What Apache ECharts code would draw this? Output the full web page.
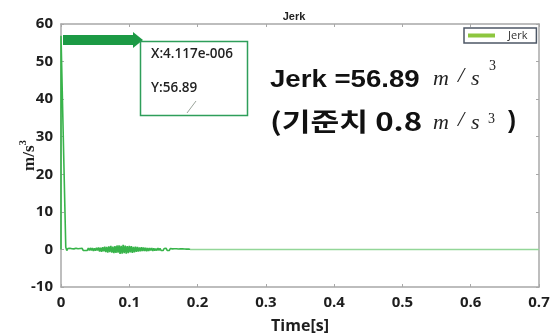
<!DOCTYPE html>
<html>
<head>
<meta charset="utf-8">
<script src="https://cdn.jsdelivr.net/npm/echarts@6/dist/echarts.min.js"></script>
<style>
  html, body { margin: 0; padding: 0; background: #fff; }
  #chart { width: 552px; height: 334px; }
</style>
</head>
<body>
<div id="chart"></div>
<script>
// Jerk signal: impact peak at start, decaying vibration, then settled (times in s, jerk in m/s^3)
const timeS = [
  0, 0.000004117, 0.007, 0.0085,
  0.0100, 0.0115, 0.0130, 0.0145, 0.0160, 0.0175, 0.0190, 0.0205, 0.0220, 0.0235,
  0.0250, 0.0265, 0.0280, 0.0295, 0.0310, 0.0325, 0.0340, 0.0355, 0.0370, 0.0385,
  0.0400, 0.0415, 0.0430, 0.0445, 0.0460, 0.0475, 0.0490, 0.0505, 0.0520, 0.0535,
  0.0550, 0.0565, 0.0580, 0.0595, 0.0610, 0.0625, 0.0640, 0.0655, 0.0670, 0.0685,
  0.0700, 0.0715, 0.0730, 0.0745, 0.0760, 0.0775, 0.0790, 0.0805, 0.0820, 0.0835,
  0.0850, 0.0865, 0.0880, 0.0895, 0.0910, 0.0925, 0.0940, 0.0955, 0.0970, 0.0985,
  0.1000, 0.1015, 0.1030, 0.1045, 0.1060, 0.1075, 0.1090, 0.1105, 0.1120, 0.1135,
  0.1150, 0.1165, 0.1180, 0.1195, 0.1210, 0.1225, 0.1240, 0.1255, 0.1270, 0.1285,
  0.1300, 0.1315, 0.1330, 0.1345, 0.1360, 0.1375, 0.1390, 0.1405, 0.1420, 0.1435,
  0.1450, 0.1465, 0.1480, 0.1495, 0.1510, 0.1525, 0.1540, 0.1555, 0.1570, 0.1585,
  0.1600, 0.1615, 0.1630, 0.1645, 0.1660, 0.1675, 0.1690, 0.1705, 0.1720, 0.1735,
  0.1750, 0.1765, 0.1780, 0.1795, 0.1810, 0.1825, 0.1840, 0.1855, 0.1870, 0.1885,
  0.1900, 0.7000
];
const jerk = [
  0, 56.89, 0.6, -0.3,
  0.25, -0.2, 0.3, -0.15, 0.2, -0.3, 0.15, -0.25, 0.3, -0.2,
  0.2, -0.3, 0.25, -0.15, 0.3, -0.25, 0.2, -0.3, 0.15, -0.25,
  0.35, -0.3, 0.4, -0.25, 0.35, -0.4, 0.3, -0.35, 0.45, -0.3,
  0.5, -0.55, 0.45, -0.65, 0.6, -0.5, 0.75, -0.7, 0.65, -0.85,
  0.8, -0.7, 0.95, -0.85, 0.75, -1.0, 0.9, -0.95, 1.05, -0.85,
  1.1, -1.2, 0.95, -1.15, 1.2, -1.0, 1.05, -1.1, 0.9, -1.0,
  0.95, -0.8, 0.85, -0.9, 0.7, -0.8, 0.75, -0.65, 0.7, -0.6,
  0.55, -0.5, 0.6, -0.45, 0.5, -0.4, 0.45, -0.5, 0.35, -0.4,
  0.4, -0.3, 0.35, -0.4, 0.3, -0.35, 0.25, -0.3, 0.35, -0.25,
  0.3, -0.25, 0.2, -0.3, 0.25, -0.2, 0.3, -0.25, 0.2, -0.3,
  0.25, -0.2, 0.15, -0.25, 0.2, -0.15, 0.2, -0.15, 0.1, -0.2,
  0.15, -0.1, 0.15, -0.12, 0.1, -0.15, 0.08, -0.1, 0.1, -0.05,
  0, 0
];

// axis ranges: [min, max, interval]
const xRange = [0, 0.7, 0.1];
const yRange = [-10, 60, 10];
// time where the vibration has died out
const settledFrom = 0.19;

const seriesName = 'Jerk';
const peakLabel = ['X:4.117e-006', 'Y:56.89'];
const headline = 'Jerk =56.89';
const limitLine = '(기준치 0.8';

const points = timeS.map((t, i) => [t, jerk[i]]);

// trace colour: strong green while vibrating, lighter once settled
const tFirst = timeS[0], tLast = timeS[timeS.length - 1];
const split = (settledFrom - tFirst) / (tLast - tFirst);
const traceColor = new echarts.graphic.LinearGradient(0, 0, 1, 0, [
  { offset: 0, color: '#38b44a' },
  { offset: split, color: '#38b44a' },
  { offset: Math.min(1, split + 0.002), color: '#93d698' },
  { offset: 1, color: '#93d698' }
]);

const axisGray = '#a8a8a8';
const tickFont = { fontFamily: 'Open Sans', fontWeight: 'bold', fontSize: 15, color: '#1e1e1e' };

const chart = echarts.init(document.getElementById('chart'), null, { renderer: 'canvas' });

const boxStyle = () => ({
  axisLine: { show: true, onZero: false, lineStyle: { color: axisGray, width: 1.5 } },
  axisTick: { show: true, inside: true, length: 3, lineStyle: { color: axisGray } },
  splitLine: { show: false }
});

chart.setOption({
  animation: false,
  backgroundColor: '#ffffff',
  title: {
    text: seriesName, left: 289, top: 6, textAlign: 'center',
    textStyle: { fontFamily: 'Liberation Sans', fontWeight: 'bold', fontSize: 11, color: '#222' }
  },
  grid: { left: 61, top: 24, right: 13, bottom: 47, containLabel: false, outerBoundsMode: 'none' },
  legend: {
    data: [{ name: seriesName, itemStyle: { color: '#8dc63f' } }],
    icon: 'rect', itemWidth: 27, itemHeight: 4, itemGap: 0,
    left: 464, top: 28, padding: [2, 9, 2, 4],
    borderColor: '#4d5766', borderWidth: 1.5, borderRadius: 0,
    textStyle: { fontFamily: 'Open Sans', fontSize: 11, color: '#333', padding: [0, 0, 0, 8] }
  },
  xAxis: [
    Object.assign({
      type: 'value', min: xRange[0], max: xRange[1], interval: xRange[2], position: 'bottom',
      axisLabel: Object.assign({ margin: 8 }, tickFont),
      name: 'Time[s]', nameLocation: 'middle', nameGap: 31, nameMoveOverlap: false,
      nameTextStyle: { fontFamily: 'Open Sans', fontWeight: 'bold', fontSize: 16, color: '#1e1e1e', verticalAlign: 'top' }
    }, boxStyle()),
    Object.assign({
      type: 'value', min: xRange[0], max: xRange[1], interval: xRange[2], position: 'top',
      axisLabel: { show: false }
    }, boxStyle())
  ],
  yAxis: [
    Object.assign({
      type: 'value', min: yRange[0], max: yRange[1], interval: yRange[2], position: 'left',
      axisLabel: Object.assign({ margin: 8, padding: [6, 0, 0, 0] }, tickFont),
      name: '{u|m/s}{p|3}', nameLocation: 'middle', nameGap: 23, nameRotate: 90, nameMoveOverlap: false,
      nameTextStyle: {
        rich: {
          u: { fontFamily: 'Liberation Serif', fontWeight: 'bold', fontSize: 17, color: '#1e1e1e', lineHeight: 20, verticalAlign: 'bottom' },
          p: { fontFamily: 'Liberation Serif', fontWeight: 'bold', fontSize: 11, color: '#1e1e1e', lineHeight: 20, verticalAlign: 'top' }
        }
      }
    }, boxStyle()),
    Object.assign({
      type: 'value', min: yRange[0], max: yRange[1], interval: yRange[2], position: 'right',
      axisLabel: { show: false }
    }, boxStyle())
  ],
  series: [{
    name: seriesName, type: 'line', xAxisIndex: 0, yAxisIndex: 0,
    data: points, showSymbol: false, symbol: 'none',
    lineStyle: { width: 1.6, color: traceColor },
    itemStyle: { color: '#38b44a' }
  }],
  graphic: [
    // pointer arrow towards the data tip
    { type: 'polygon', shape: { points: [[63, 35], [133, 35], [133, 32], [143, 40], [133, 48], [133, 45], [63, 45]] },
      style: { fill: '#1c9a45' } },
    // data tip
    { type: 'rect', shape: { x: 140.5, y: 41.5, width: 107, height: 74 },
      style: { fill: 'rgba(255,255,255,0.95)', stroke: '#2e9e5a', lineWidth: 1.5 } },
    { type: 'text', x: 151, y: 54,
      style: { text: peakLabel[0], font: '600 13.5px "Open Sans"', fill: '#222', textVerticalAlign: 'middle' } },
    { type: 'text', x: 151, y: 88,
      style: { text: peakLabel[1], font: '600 13.5px "Open Sans"', fill: '#222', textVerticalAlign: 'middle' } },
    { type: 'line', shape: { x1: 187, y1: 113, x2: 196, y2: 101 },
      style: { stroke: '#9aa39a', lineWidth: 1 } },

    // headline text
    { type: 'text', x: 270, y: 80, scaleX: 1.15,
      style: { text: headline, font: 'bold 24px "Liberation Sans"', fill: '#111', textVerticalAlign: 'middle' } },
    { type: 'text', x: 270, y: 121, scaleX: 1.25,
      style: { text: limitLine, font: 'bold 25px "Noto Sans CJK KR"', fill: '#111', textVerticalAlign: 'middle' } },
    { type: 'text', x: 433, y: 79, style: { text: 'm', font: 'italic 22px "Liberation Serif"', fill: '#222', textVerticalAlign: 'middle' } },
    { type: 'text', x: 458, y: 76, style: { text: '/', font: 'italic 22px "Liberation Serif"', fill: '#222', textVerticalAlign: 'middle' } },
    { type: 'text', x: 471, y: 79, style: { text: 's', font: 'italic 22px "Liberation Serif"', fill: '#222', textVerticalAlign: 'middle' } },
    { type: 'text', x: 489, y: 66, style: { text: '3', font: '14px "Liberation Serif"', fill: '#222', textVerticalAlign: 'middle' } },
    { type: 'text', x: 433, y: 123, style: { text: 'm', font: 'italic 22px "Liberation Serif"', fill: '#222', textVerticalAlign: 'middle' } },
    { type: 'text', x: 458, y: 120, style: { text: '/', font: 'italic 22px "Liberation Serif"', fill: '#222', textVerticalAlign: 'middle' } },
    { type: 'text', x: 471, y: 123, style: { text: 's', font: 'italic 22px "Liberation Serif"', fill: '#222', textVerticalAlign: 'middle' } },
    { type: 'text', x: 488, y: 119, style: { text: '3', font: '14px "Liberation Serif"', fill: '#222', textVerticalAlign: 'middle' } },
    { type: 'text', x: 508, y: 121, style: { text: ')', font: 'bold 24px "Liberation Sans"', fill: '#111', textVerticalAlign: 'middle' } }
  ]
});
</script>
</body>
</html>
